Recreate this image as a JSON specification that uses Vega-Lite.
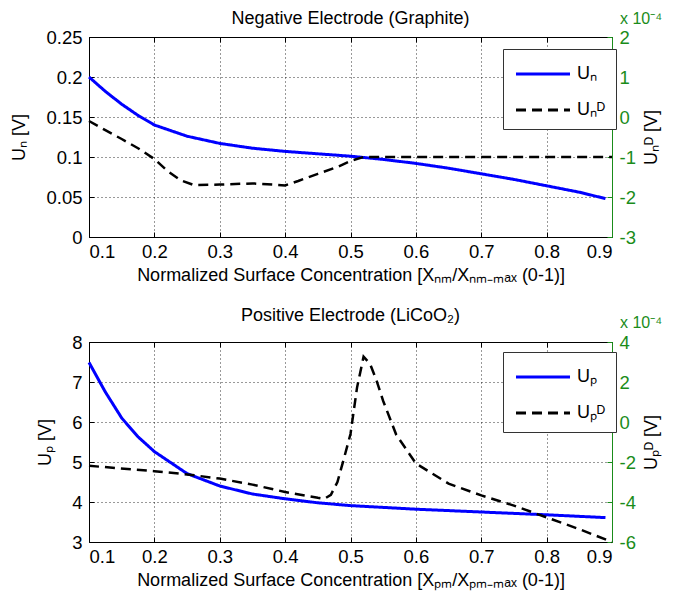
{
  "$schema": "https://vega.github.io/schema/vega-lite/v6.json",
  "padding": {"left": 10, "top": 9, "right": 5, "bottom": 5},
  "background": "white",
  "config": {
    "font": "Liberation Sans",
    "view": {"stroke": "black", "strokeWidth": 1},
    "axis": {
      "labelFont": "Liberation Sans", "titleFont": "Liberation Sans",
      "labelFontSize": 18.5, "titleFontSize": 18, "titleFontWeight": "normal",
      "labelColor": "black", "titleColor": "black", "tickColor": "black", "domainColor": "black",
      "gridColor": "black", "gridDash": [1, 3], "gridOpacity": 0.8, "gridWidth": 1,
      "tickSize": -5, "labelPadding": 10, "labelOverlap": false
    },
    "title": {"font": "Liberation Sans", "fontSize": 18, "fontWeight": "normal", "color": "black", "frame": "group", "anchor": "middle"},
    "legend": {"labelFont": "Liberation Sans"}
  },
  "datasets": {
    "negU": [
      {"x": 0.1, "v": 0.2, "s": "Uₙ"}, {"x": 0.125, "v": 0.182, "s": "Uₙ"}, {"x": 0.15, "v": 0.166, "s": "Uₙ"},
      {"x": 0.175, "v": 0.152, "s": "Uₙ"}, {"x": 0.2, "v": 0.14, "s": "Uₙ"}, {"x": 0.25, "v": 0.126, "s": "Uₙ"},
      {"x": 0.3, "v": 0.117, "s": "Uₙ"}, {"x": 0.35, "v": 0.111, "s": "Uₙ"}, {"x": 0.4, "v": 0.107, "s": "Uₙ"},
      {"x": 0.45, "v": 0.104, "s": "Uₙ"}, {"x": 0.5, "v": 0.101, "s": "Uₙ"}, {"x": 0.55, "v": 0.097, "s": "Uₙ"},
      {"x": 0.6, "v": 0.092, "s": "Uₙ"}, {"x": 0.65, "v": 0.086, "s": "Uₙ"}, {"x": 0.7, "v": 0.079, "s": "Uₙ"},
      {"x": 0.75, "v": 0.072, "s": "Uₙ"}, {"x": 0.8, "v": 0.064, "s": "Uₙ"}, {"x": 0.85, "v": 0.056, "s": "Uₙ"},
      {"x": 0.89, "v": 0.048, "s": "Uₙ"}
    ],
    "negD": [
      {"x": 0.1, "v": -0.1, "s": "Uₙᴰ"}, {"x": 0.125, "v": -0.33, "s": "Uₙᴰ"}, {"x": 0.15, "v": -0.55, "s": "Uₙᴰ"},
      {"x": 0.175, "v": -0.78, "s": "Uₙᴰ"}, {"x": 0.2, "v": -1.05, "s": "Uₙᴰ"}, {"x": 0.22, "v": -1.35, "s": "Uₙᴰ"},
      {"x": 0.24, "v": -1.58, "s": "Uₙᴰ"}, {"x": 0.26, "v": -1.7, "s": "Uₙᴰ"}, {"x": 0.3, "v": -1.69, "s": "Uₙᴰ"},
      {"x": 0.35, "v": -1.66, "s": "Uₙᴰ"}, {"x": 0.4, "v": -1.71, "s": "Uₙᴰ"}, {"x": 0.42, "v": -1.6, "s": "Uₙᴰ"},
      {"x": 0.45, "v": -1.42, "s": "Uₙᴰ"}, {"x": 0.48, "v": -1.25, "s": "Uₙᴰ"}, {"x": 0.5, "v": -1.1, "s": "Uₙᴰ"},
      {"x": 0.52, "v": -1.0, "s": "Uₙᴰ"}, {"x": 0.6, "v": -1.0, "s": "Uₙᴰ"}, {"x": 0.7, "v": -1.0, "s": "Uₙᴰ"},
      {"x": 0.8, "v": -1.0, "s": "Uₙᴰ"}, {"x": 0.9, "v": -1.0, "s": "Uₙᴰ"}
    ],
    "posU": [
      {"x": 0.1, "v": 7.49, "s": "Uₚ"}, {"x": 0.125, "v": 6.75, "s": "Uₚ"}, {"x": 0.15, "v": 6.1, "s": "Uₚ"},
      {"x": 0.175, "v": 5.63, "s": "Uₚ"}, {"x": 0.2, "v": 5.26, "s": "Uₚ"}, {"x": 0.25, "v": 4.71, "s": "Uₚ"},
      {"x": 0.3, "v": 4.4, "s": "Uₚ"}, {"x": 0.35, "v": 4.2, "s": "Uₚ"}, {"x": 0.4, "v": 4.08, "s": "Uₚ"},
      {"x": 0.45, "v": 3.98, "s": "Uₚ"}, {"x": 0.5, "v": 3.91, "s": "Uₚ"}, {"x": 0.6, "v": 3.82, "s": "Uₚ"},
      {"x": 0.7, "v": 3.75, "s": "Uₚ"}, {"x": 0.8, "v": 3.68, "s": "Uₚ"}, {"x": 0.89, "v": 3.61, "s": "Uₚ"}
    ],
    "posD": [
      {"x": 0.1, "v": -2.19, "s": "Uₚᴰ"}, {"x": 0.2, "v": -2.46, "s": "Uₚᴰ"}, {"x": 0.25, "v": -2.62, "s": "Uₚᴰ"},
      {"x": 0.3, "v": -2.83, "s": "Uₚᴰ"}, {"x": 0.35, "v": -3.13, "s": "Uₚᴰ"}, {"x": 0.4, "v": -3.5, "s": "Uₚᴰ"},
      {"x": 0.45, "v": -3.79, "s": "Uₚᴰ"}, {"x": 0.46, "v": -3.84, "s": "Uₚᴰ"}, {"x": 0.47, "v": -3.64, "s": "Uₚᴰ"},
      {"x": 0.48, "v": -3.0, "s": "Uₚᴰ"}, {"x": 0.49, "v": -1.82, "s": "Uₚᴰ"}, {"x": 0.5, "v": -0.6, "s": "Uₚᴰ"},
      {"x": 0.51, "v": 1.72, "s": "Uₚᴰ"}, {"x": 0.52, "v": 3.27, "s": "Uₚᴰ"}, {"x": 0.53, "v": 2.9, "s": "Uₚᴰ"},
      {"x": 0.54, "v": 2.06, "s": "Uₚᴰ"}, {"x": 0.55, "v": 1.05, "s": "Uₚᴰ"}, {"x": 0.57, "v": -0.64, "s": "Uₚᴰ"},
      {"x": 0.6, "v": -2.07, "s": "Uₚᴰ"}, {"x": 0.65, "v": -3.08, "s": "Uₚᴰ"}, {"x": 0.7, "v": -3.67, "s": "Uₚᴰ"},
      {"x": 0.75, "v": -4.18, "s": "Uₚᴰ"}, {"x": 0.8, "v": -4.77, "s": "Uₚᴰ"}, {"x": 0.85, "v": -5.36, "s": "Uₚᴰ"},
      {"x": 0.9, "v": -6.0, "s": "Uₚᴰ"}
    ]
  },
  "spacing": 21,
  "resolve": {"scale": {"color": "independent", "strokeDash": "independent"}, "legend": {"color": "independent", "strokeDash": "independent"}},
  "vconcat": [
    {
      "title": {"text": "Negative Electrode (Graphite)", "offset": -17},
      "width": 523, "height": 200,
      "resolve": {"scale": {"y": "independent"}, "axis": {"x": "independent", "y": "independent"}},
      "layer": [
        {
          "data": {"name": "negU"},
          "mark": {"type": "line", "strokeWidth": 3},
          "encoding": {
            "x": {"field": "x", "type": "quantitative", "scale": {"domain": [0.1, 0.9], "nice": false, "zero": false},
              "axis": {"orient": "bottom", "values": [0.1, 0.2, 0.3, 0.4, 0.5, 0.6, 0.7, 0.8, 0.9], "format": ".1f", "grid": true, "domain": false,
                "title": "Normalized Surface Concentration [Xₙₘ/Xₙₘ₋ₘₐₓ (0-1)]", "titlePadding": 6}},
            "y": {"field": "v", "type": "quantitative", "scale": {"domain": [0, 0.25], "nice": false, "zero": false},
              "axis": {"orient": "left", "values": [0, 0.05, 0.1, 0.15, 0.2, 0.25], "labelExpr": "'' + datum.value", "grid": true, "domain": false,
                "labelPadding": 12, "labelOverlap": false, "title": "Uₙ [V]", "titlePadding": 17}},
            "color": {"field": "s", "type": "nominal", "scale": {"domain": ["Uₙ", "Uₙᴰ"], "range": ["#0000ff", "#000000"]},
              "legend": {"orient": "none", "legendX": 414, "legendY": 12, "title": null, "strokeColor": "#333333", "fillColor": "white",
                "padding": 10, "symbolType": "M-2,0H2", "symbolSize": 729, "symbolOffset": 15, "symbolStrokeWidth": 3, "labelFontSize": 18, "labelOffset": 19, "rowPadding": 12, "labelLimit": 80}},
            "strokeDash": {"field": "s", "type": "nominal", "scale": {"domain": ["Uₙ", "Uₙᴰ"], "range": [[1, 0], [10, 6]]},
              "legend": {"orient": "none", "legendX": 414, "legendY": 12, "title": null, "strokeColor": "#333333", "fillColor": "white",
                "padding": 10, "symbolType": "M-2,0H2", "symbolSize": 729, "symbolOffset": 15, "symbolStrokeWidth": 3, "labelFontSize": 18, "labelOffset": 19, "rowPadding": 12, "labelLimit": 80}}
          }
        },
        {
          "data": {"name": "negD"},
          "mark": {"type": "line", "strokeWidth": 2.5},
          "encoding": {
            "x": {"field": "x", "type": "quantitative", "scale": {"domain": [0.1, 0.9], "nice": false, "zero": false},
              "axis": {"orient": "top", "values": [0.1, 0.2, 0.3, 0.4, 0.5, 0.6, 0.7, 0.8, 0.9], "labels": false, "grid": false, "domain": false, "title": null}},
            "y": {"field": "v", "type": "quantitative", "scale": {"domain": [-3, 2], "nice": false, "zero": false},
              "axis": {"orient": "right", "values": [-3, -2, -1, 0, 1, 2], "labelExpr": "'' + datum.value", "grid": false, "domain": true,
                "labelOverlap": false, "labelBound": false, "labelFlush": false,
                "domainColor": "#1a8c1a", "tickColor": "#1a8c1a", "labelColor": "#1a8c1a", "labelPadding": 12,
                "title": "Uₙᴰ [V]", "titleAngle": 270, "titlePadding": 25}},
            "color": {"field": "s", "type": "nominal"},
            "strokeDash": {"field": "s", "type": "nominal"}
          }
        },
        {
          "data": {"values": [{}]},
          "mark": {"type": "text", "align": "left", "baseline": "alphabetic", "dx": 8, "dy": -13, "fontSize": 16, "color": "#1a8c1a", "font": "Liberation Sans"},
          "encoding": {
            "x": {"datum": 0.9, "type": "quantitative", "axis": null},
            "y": {"datum": 1, "type": "quantitative", "scale": {"domain": [0, 1]}, "axis": null},
            "text": {"value": "x 10⁻⁴"}
          }
        }
      ]
    },
    {
      "title": {"text": "Positive Electrode (LiCoO₂)", "offset": -10},
      "width": 523, "height": 200,
      "resolve": {"scale": {"y": "independent"}, "axis": {"x": "independent", "y": "independent"}},
      "layer": [
        {
          "data": {"name": "posU"},
          "mark": {"type": "line", "strokeWidth": 3},
          "encoding": {
            "x": {"field": "x", "type": "quantitative", "scale": {"domain": [0.1, 0.9], "nice": false, "zero": false},
              "axis": {"orient": "bottom", "values": [0.1, 0.2, 0.3, 0.4, 0.5, 0.6, 0.7, 0.8, 0.9], "format": ".1f", "grid": true, "domain": false,
                "title": "Normalized Surface Concentration [Xₚₘ/Xₚₘ₋ₘₐₓ (0-1)]", "titlePadding": 6}},
            "y": {"field": "v", "type": "quantitative", "scale": {"domain": [3, 8], "nice": false, "zero": false},
              "axis": {"orient": "left", "values": [3, 4, 5, 6, 7, 8], "labelExpr": "'' + datum.value", "grid": true, "domain": false,
                "labelPadding": 12, "labelOverlap": false, "title": "Uₚ [V]", "titlePadding": 17}},
            "color": {"field": "s", "type": "nominal", "scale": {"domain": ["Uₚ", "Uₚᴰ"], "range": ["#0000ff", "#000000"]},
              "legend": {"orient": "none", "legendX": 414, "legendY": 10, "title": null, "strokeColor": "#333333", "fillColor": "white",
                "padding": 10, "symbolType": "M-2,0H2", "symbolSize": 729, "symbolOffset": 15, "symbolStrokeWidth": 3, "labelFontSize": 18, "labelOffset": 19, "rowPadding": 12, "labelLimit": 80}},
            "strokeDash": {"field": "s", "type": "nominal", "scale": {"domain": ["Uₚ", "Uₚᴰ"], "range": [[1, 0], [10, 6]]},
              "legend": {"orient": "none", "legendX": 414, "legendY": 10, "title": null, "strokeColor": "#333333", "fillColor": "white",
                "padding": 10, "symbolType": "M-2,0H2", "symbolSize": 729, "symbolOffset": 15, "symbolStrokeWidth": 3, "labelFontSize": 18, "labelOffset": 19, "rowPadding": 12, "labelLimit": 80}}
          }
        },
        {
          "data": {"name": "posD"},
          "mark": {"type": "line", "strokeWidth": 2.5},
          "encoding": {
            "x": {"field": "x", "type": "quantitative", "scale": {"domain": [0.1, 0.9], "nice": false, "zero": false},
              "axis": {"orient": "top", "values": [0.1, 0.2, 0.3, 0.4, 0.5, 0.6, 0.7, 0.8, 0.9], "labels": false, "grid": false, "domain": false, "title": null}},
            "y": {"field": "v", "type": "quantitative", "scale": {"domain": [-6, 4], "nice": false, "zero": false},
              "axis": {"orient": "right", "values": [-6, -4, -2, 0, 2, 4], "labelExpr": "'' + datum.value", "grid": false, "domain": true,
                "labelOverlap": false, "labelBound": false, "labelFlush": false,
                "domainColor": "#1a8c1a", "tickColor": "#1a8c1a", "labelColor": "#1a8c1a", "labelPadding": 12,
                "title": "Uₚᴰ [V]", "titleAngle": 270, "titlePadding": 25}},
            "color": {"field": "s", "type": "nominal"},
            "strokeDash": {"field": "s", "type": "nominal"}
          }
        },
        {
          "data": {"values": [{}]},
          "mark": {"type": "text", "align": "left", "baseline": "alphabetic", "dx": 8, "dy": -14, "fontSize": 16, "color": "#1a8c1a", "font": "Liberation Sans"},
          "encoding": {
            "x": {"datum": 0.9, "type": "quantitative", "axis": null},
            "y": {"datum": 1, "type": "quantitative", "scale": {"domain": [0, 1]}, "axis": null},
            "text": {"value": "x 10⁻⁴"}
          }
        }
      ]
    }
  ]
}
